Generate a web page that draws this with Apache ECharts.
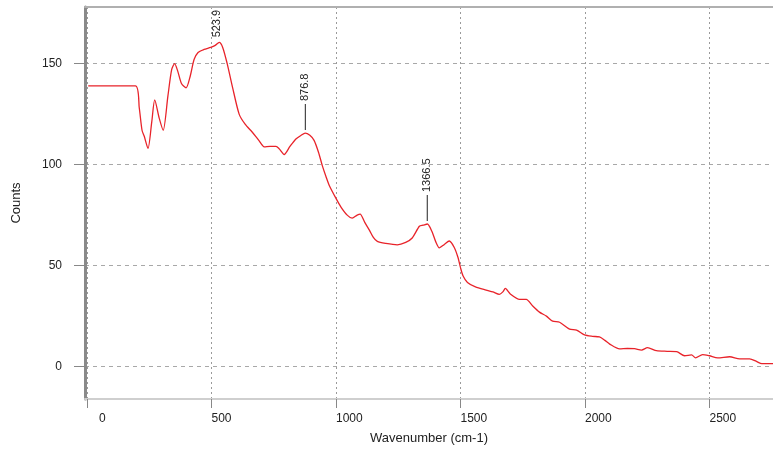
<!DOCTYPE html>
<html><head><meta charset="utf-8">
<script src="https://cdn.jsdelivr.net/npm/echarts@6/dist/echarts.min.js"></script>
<style>html,body{margin:0;padding:0;background:#fff}#c{width:773px;height:450px}</style>
</head><body><div id="c"></div>
<script>
const wavenumber = [5,195,210,221,230,245,260,272,290,306,325,340,352,365,380,398,415,430,446,470,497,515,531,545,563,585,611,635,664,690,712,735,759,772,792,815,839,860,876,895,912,930,945,960,973,1000,1020,1045,1065,1085,1097,1115,1134,1150,1166,1200,1246,1280,1306,1335,1350,1367,1385,1400,1415,1435,1455,1475,1490,1500,1510,1528,1560,1603,1630,1656,1670,1680,1700,1737,1764,1790,1817,1845,1870,1898,1938,1966,1998,2030,2058,2080,2098,2139,2170,2199,2227,2251,2287,2330,2368,2400,2428,2444,2472,2500,2533,2581,2621,2661,2690,2710,2742,2755];
const counts = [139,139,128,117,114,108,121,132,123,117,134,147,150,146,140,138,144,152,155.5,157,158,159,160.5,158,150,138,125,120,116,112,108.8,109,109,107.8,105,109,112.7,114.5,115.6,114.5,112,106,99.5,94,89.7,83.3,79,75,73.5,75,75.5,71.5,67.6,64,62,61,60.3,61.5,63.7,69.5,70,70.6,67,62,58.8,60.5,62.2,59,54,49,45,41.7,39.5,37.9,37,35.8,37,38.7,36,33.3,33.3,30,27,25,22.5,22,18.6,18.1,15.7,15,14.7,13,11.3,8.8,9,8.9,8.2,9.4,7.9,7.6,7.4,5.4,5.8,4.4,6,5.4,4.4,4.9,3.9,3.9,2.5,1.5,1.5,1.5];
const xTicks = [0,500,1000,1500,2000,2500];
const yTicks = [0,50,100,150];
const peakX = [523.9, 876.8, 1366.5];
const peakY = [160.5, 115.6, 70.6];
const peakLabels = ['523.9','876.8','1366.5'];
const peakHasLine = [false, true, true];

const FONT = 'Liberation Sans, Arial, sans-serif';
const chart = echarts.init(document.getElementById('c'));
const lineData = wavenumber.map((x, i) => [x, counts[i]]);
const markData = peakX.map((x, i) => ({
  coord: [x, peakY[i]],
  name: peakLabels[i],
  symbol: 'rect',
  symbolSize: peakHasLine[i] ? [1, 26] : [0, 0],
  symbolOffset: peakHasLine[i] ? [0, -16] : [0, -2],
  itemStyle: {color: '#222'},
  label: {
    show: true, formatter: peakLabels[i], rotate: 90, position: 'top', distance: 3,
    align: 'left', verticalAlign: 'middle', color: '#222', fontSize: 11, fontFamily: FONT
  }
}));
chart.setOption({
  animation: false,
  backgroundColor: '#fff',
  grid: {left: 85, right: 0, top: 7, bottom: 48},
  xAxis: [{
    type: 'value', min: -8, max: 2755,
    name: 'Wavenumber (cm-1)', nameLocation: 'middle', nameGap: 33,
    nameTextStyle: {color: '#222', fontSize: 13, fontFamily: FONT},
    axisLine: {show: true, onZero: false, lineStyle: {color: '#cfcfcf', width: 2}},
    axisTick: {show: true, customValues: xTicks, length: 9, lineStyle: {color: '#888'}},
    axisLabel: {customValues: xTicks, align: 'left', margin: 14, color: '#222', fontSize: 12, fontFamily: FONT,
      formatter: v => v === 0 ? '{z|0}' : String(v), rich: {z: {padding: [0, 0, 0, 12], fontSize: 12, color: '#222', fontFamily: FONT}}},
    splitLine: {show: true, lineStyle: {color: '#9a9a9a', type: [2, 3], width: 1}}
  }, {
    type: 'value', min: -8, max: 2755, position: 'top',
    axisLine: {show: true, onZero: false, lineStyle: {color: '#b0b0b0', width: 2}},
    axisTick: {show: false}, axisLabel: {show: false}, splitLine: {show: false}
  }],
  yAxis: {
    type: 'value', min: -16, max: 178,
    name: 'Counts', nameLocation: 'middle', nameGap: 62, nameRotate: 90,
    nameTextStyle: {color: '#222', fontSize: 13, fontFamily: FONT},
    axisLine: {show: true, onZero: false, lineStyle: {color: '#8a8a8a', width: 3}},
    axisTick: {show: true, customValues: yTicks, length: 11, lineStyle: {color: '#888'}},
    axisLabel: {customValues: yTicks, margin: 23, color: '#222', fontSize: 12, fontFamily: FONT},
    splitLine: {show: true, lineStyle: {color: '#a8a8a8', type: [4, 4], width: 1}}
  },
  series: [{
    type: 'line', data: lineData, showSymbol: false, smooth: 0.25,
    lineStyle: {color: '#e8232a', width: 1.3},
    markPoint: {silent: true, data: markData}
  }]
});
</script></body></html>
